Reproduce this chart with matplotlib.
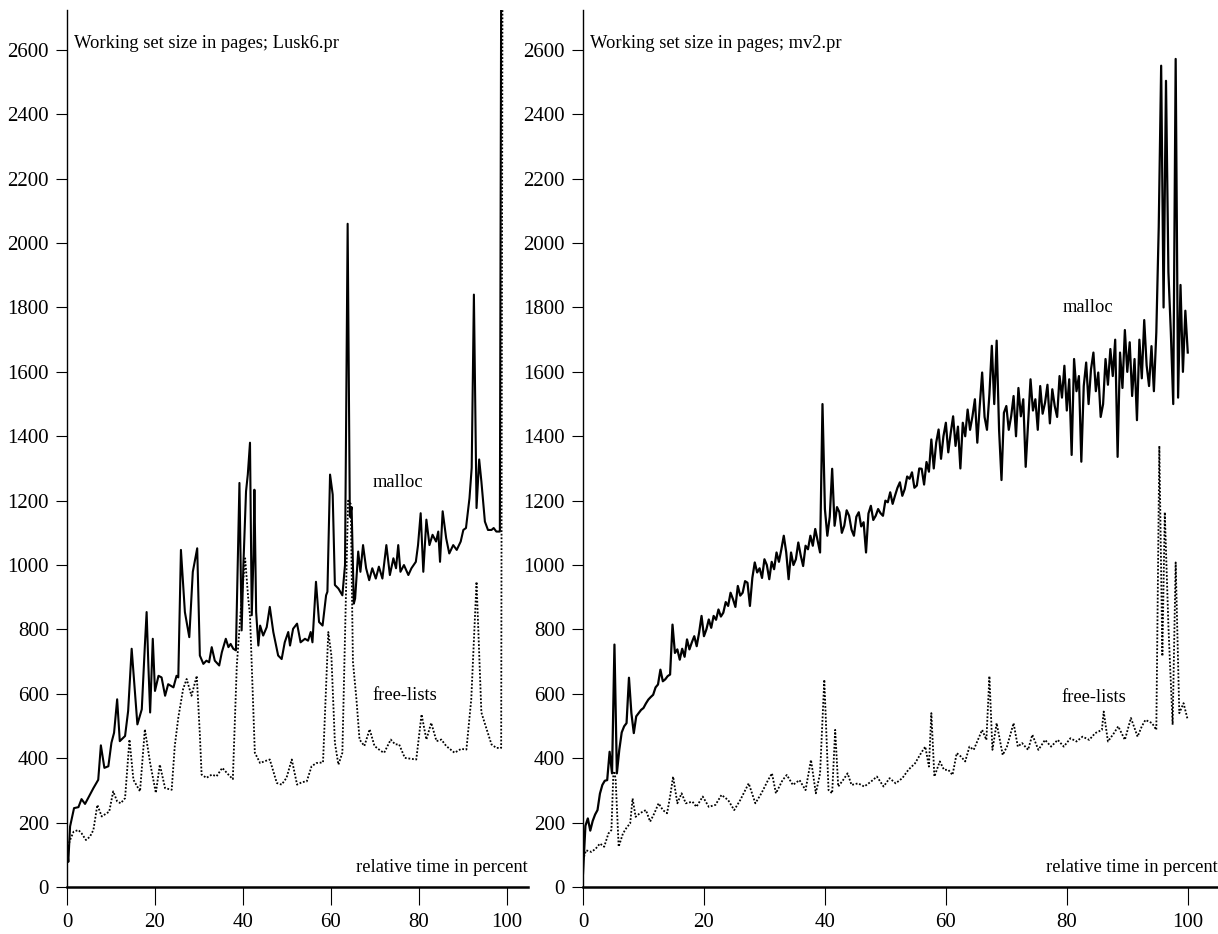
import matplotlib
matplotlib.use("Agg")
import matplotlib.pyplot as plt
import numpy as np

plt.rcParams['font.family'] = ['Liberation Serif', 'DejaVu Serif']

# ---- Lusk6.pr (left panel) ----
lusk_malloc_x = [0, 0.3, 0.7, 1.6, 2.6, 3.3, 4.1, 5.2, 6.0, 7.1, 7.7, 8.5, 9.4, 10.1, 10.7,
                 11.4, 12.0, 13.2, 13.9, 14.7, 16.0, 17.0, 17.7, 18.1, 18.5, 18.9, 19.5, 20.0,
                 20.8, 21.5, 22.3, 23.0, 24.2, 24.9, 25.3, 25.9, 26.8, 27.8, 28.6, 29.6, 30.2,
                 31.0, 31.7, 32.3, 32.9, 33.6, 34.6, 35.2, 36.1, 36.7, 37.2, 37.8, 38.4, 39.2,
                 39.7, 40.1, 40.7, 41.1, 41.6, 42.0, 42.4, 42.6, 43.0, 43.5, 43.9, 44.6, 45.4,
                 46.1, 46.9, 48.0, 48.8, 49.5, 50.3, 50.7, 51.4, 52.3, 53.1, 54.1, 54.8, 55.4,
                 55.8, 56.6, 57.3, 58.1, 58.9, 59.2, 59.8, 60.4, 60.9, 61.7, 62.6, 63.2, 63.8,
                 64.3, 64.7, 65.2, 65.5, 66.2, 66.7, 67.3, 68.0, 68.7, 69.4, 70.2, 70.9, 71.7,
                 72.6, 73.4, 74.2, 74.8, 75.3, 75.8, 76.6, 77.6, 78.3, 79.3, 79.8, 80.4, 81.0,
                 81.7, 82.4, 83.1, 83.9, 84.4, 84.8, 85.4, 86.2, 86.9, 87.8, 88.6, 89.5, 90.1,
                 90.7, 91.5, 92.0, 92.5, 93.1, 93.7, 94.2, 95.0, 95.7, 96.5, 97.0, 97.6, 98.4,
                 98.7]
lusk_malloc_y = [125, 78, 188, 245, 248, 273, 258, 286, 307, 333, 440, 370, 375, 448, 479,
                 583, 453, 469, 547, 740, 505, 552, 750, 854, 688, 542, 771, 609,
                 656, 651, 594, 630, 620, 656, 651, 1047, 854, 776, 979, 1052, 719,
                 693, 703, 698, 745, 703, 688, 729, 771, 745, 755, 740, 735, 1255,
                 797, 1000, 1229, 1281, 1380, 844, 1031, 1234, 854, 750, 812, 781, 807,
                 870, 792, 719, 708, 760, 792, 750, 802, 818, 760, 771, 765, 792,
                 760, 948, 823, 812, 906, 917, 1281, 1219, 938, 927, 906, 1000, 2060,
                 1150, 1180, 880, 896, 1042, 979, 1062, 990, 953, 990, 958, 995, 958,
                 1062, 969, 1021, 990, 1062, 979, 1000, 969, 990, 1010, 1062, 1161, 979,
                 1141, 1062, 1094, 1073, 1104, 1010, 1167, 1083, 1036, 1062, 1047, 1073, 1109,
                 1115, 1208, 1302, 1840, 1177, 1328, 1260, 1135, 1109, 1109, 1115, 1104, 1104,
                 2800]

lusk_free_x = [0, 0.7, 1.5, 2.6, 3.3, 4.3, 5.2, 6.0, 6.9, 7.9, 9.0, 9.6, 10.5, 11.4, 12.2,
               13.2, 14.2, 15.1, 16.6, 17.7, 18.9, 20.2, 21.1, 22.3, 23.8, 24.5, 25.3, 26.4,
               27.2, 28.3, 29.5, 30.2, 30.6, 31.7, 32.9, 34.0, 35.3, 36.7, 37.7, 38.6, 39.7,
               40.5, 41.2, 41.6, 42.7, 43.9, 45.0, 46.1, 47.7, 48.8, 49.9, 51.1, 52.3, 53.5,
               54.5, 55.6, 56.7, 58.2, 59.4, 60.1, 60.9, 61.7, 62.6, 63.4, 63.9, 64.5, 65.0,
               65.8, 66.5, 67.6, 68.8, 69.9, 71.4, 72.1, 73.6, 74.6, 75.5, 76.8, 78.3, 79.4,
               80.6, 81.7, 82.8, 84.0, 85.1, 86.2, 88.1, 89.6, 90.8, 91.9, 93.1, 94.2, 95.4,
               96.5, 97.6, 98.7, 99.0]
lusk_free_y = [115, 146, 172, 177, 167, 146, 156, 177, 255, 219, 229, 234, 297, 266, 260,
               276, 458, 333, 297, 490, 385, 292, 380, 307, 302, 438, 526, 615,
               646, 594, 656, 474, 349, 339, 349, 344, 370, 349, 335, 688, 896,
               1021, 896, 844, 417, 385, 391, 396, 323, 318, 339, 396, 318, 326,
               328, 375, 385, 387, 792, 719, 448, 380, 417, 900, 1200, 1190, 700,
               583, 458, 438, 490, 438, 422, 417, 458, 443, 443, 401, 398, 396,
               536, 458, 510, 453, 458, 438, 417, 429, 427, 583, 948, 542, 490,
               443, 432, 432, 2800]

# ---- mv2.pr (right panel) ----
# malloc sampled every 0.4 % of run time (0 .. 100)
mv2_malloc_y = [42, 190, 213, 175, 205, 225, 239, 290, 317, 330,
                332, 420, 353, 753, 353, 426, 480, 499, 509, 650,
                540, 478, 530, 540, 550, 556, 570, 582, 590, 597,
                620, 629, 675, 639, 645, 655, 660, 815, 727, 738,
                706, 740, 715, 769, 738, 760, 779, 748, 790, 842,
                779, 800, 831, 805, 842, 830, 862, 840, 852, 885,
                873, 914, 894, 870, 935, 905, 914, 950, 945, 873,
                960, 1008, 977, 990, 960, 1018, 1000, 956, 1010, 987,
                1039, 1010, 1049, 1091, 1040, 956, 1039, 1000, 1018, 1070,
                1030, 997, 1060, 1049, 1091, 1060, 1112, 1075, 1039, 1500,
                1174, 1091, 1150, 1299, 1122, 1180, 1164, 1100, 1122, 1170,
                1153, 1110, 1091, 1150, 1164, 1120, 1133, 1039, 1160, 1184,
                1140, 1153, 1174, 1161, 1153, 1200, 1195, 1226, 1190, 1216,
                1240, 1257, 1215, 1236, 1275, 1268, 1288, 1240, 1247, 1300,
                1299, 1250, 1320, 1290, 1390, 1300, 1380, 1421, 1330, 1400,
                1442, 1350, 1410, 1462, 1370, 1430, 1300, 1442, 1400, 1483,
                1420, 1462, 1515, 1380, 1494, 1598, 1460, 1420, 1530, 1681,
                1500, 1697, 1420, 1264, 1473, 1494, 1420, 1462, 1525, 1400,
                1550, 1462, 1515, 1305, 1440, 1577, 1480, 1515, 1420, 1556,
                1470, 1504, 1560, 1440, 1546, 1494, 1460, 1587, 1520, 1619,
                1480, 1577, 1342, 1640, 1540, 1587, 1321, 1556, 1629, 1500,
                1608, 1660, 1540, 1598, 1460, 1500, 1640, 1560, 1671, 1587,
                1700, 1336, 1660, 1550, 1730, 1600, 1692, 1525, 1640, 1450,
                1700, 1580, 1761, 1620, 1556, 1680, 1540, 1723, 2050, 2551,
                1800, 2504, 1910, 1723, 1500, 2572, 1520, 1870, 1600, 1790,
                1660]
mv2_malloc_x = np.linspace(0, 100, len(mv2_malloc_y))

mv2_free_x = [0, 0.5, 1.4, 2.1, 2.8, 3.5, 4.2, 4.7, 5.0, 5.2, 5.4, 5.9, 6.6, 7.3, 7.8,
              8.2, 8.7, 9.4, 10.4, 11.1, 11.8, 12.5, 13.2, 13.9, 14.4, 14.9, 15.6, 16.3,
              17.0, 18.1, 18.75, 19.8, 20.8, 21.9, 22.9, 24.0, 25.0, 26.0, 27.4, 28.5, 29.5,
              30.6, 31.25, 31.9, 33.0, 33.7, 34.7, 35.8, 36.8, 37.7, 38.5, 39.2, 39.9, 40.6,
              41.2, 41.7, 42.2, 43.0, 43.75, 44.4, 45.5, 46.5, 47.6, 48.6, 49.7, 50.7, 51.7,
              52.8, 53.8, 54.9, 55.9, 56.6, 57.2, 57.6, 58.1, 59.0, 59.7, 60.4, 61.1, 61.8,
              62.5, 63.2, 63.9, 64.6, 65.3, 66.0, 66.7, 67.2, 67.7, 68.4, 69.4, 70.1, 71.2,
              71.9, 72.6, 73.6, 74.3, 75.3, 76.4, 77.4, 78.5, 79.5, 80.6, 81.6, 82.6, 83.7,
              84.7, 85.8, 86.1, 86.8, 87.8, 88.5, 89.6, 90.6, 91.7, 92.4, 93.0, 94.1, 94.8,
              95.3, 95.8, 96.2, 96.8, 97.5, 98.0, 98.6, 99.3, 100.0]
mv2_free_y = [83, 114, 109, 119, 135, 125, 166, 177, 343, 360, 332, 125, 166, 187, 197,
              275, 218, 229, 239, 203, 229, 260, 239, 229, 281, 343, 260, 291,
              260, 265, 249, 281, 249, 255, 286, 270, 239, 270, 322, 260, 291,
              332, 353, 291, 332, 348, 317, 332, 301, 395, 291, 353, 644, 301,
              291, 488, 312, 332, 353, 317, 322, 312, 327, 343, 312, 338, 322,
              338, 364, 384, 416, 436, 374, 540, 343, 390, 364, 364, 348, 416,
              405, 390, 436, 426, 457, 488, 457, 655, 426, 509, 410, 436, 509,
              436, 447, 426, 473, 426, 457, 436, 457, 436, 462, 452, 467, 457,
              478, 488, 545, 452, 478, 499, 457, 525, 467, 499, 519, 509, 488,
              1370, 717, 1164, 810, 504, 1008, 540, 571, 519]

x_ticks = [0, 20, 40, 60, 80, 100]
y_ticks = list(range(0, 2601, 200))

fig = plt.figure(figsize=(12.18, 9.34), dpi=100)
W, H = 1218, 934
ax1 = fig.add_axes([67 / W, 47 / H, 461 / W, 877 / H])
ax2 = fig.add_axes([583 / W, 47 / H, 635 / W, 877 / H])

panels = [
    (ax1, lusk_malloc_x, lusk_malloc_y, lusk_free_x, lusk_free_y, 104.8,
     "Working set size in pages; Lusk6.pr", 1.6, (75.2, 1255), (76.8, 594), 1.5),
    (ax2, mv2_malloc_x, mv2_malloc_y, mv2_free_x, mv2_free_y, 105.0,
     "Working set size in pages; mv2.pr", 1.2, (83.5, 1800), (84.5, 590), 1.6),
]

for ax, mx, my, fx, fy, xmax, title, tx, mlab, flab, mlw in panels:
    ax.plot(fx, fy, color='black', lw=1.3, ls=(0, (1, 1)))
    ax.plot(mx, my, color='black', lw=mlw)
    ax.set_xlim(0, xmax)
    ax.set_ylim(0, 2724)
    ax.set_xticks(x_ticks)
    ax.set_yticks(y_ticks)
    ax.spines['top'].set_visible(False)
    ax.spines['right'].set_visible(False)
    ax.spines['left'].set_linewidth(1.0)
    ax.spines['bottom'].set_linewidth(1.8)
    ax.tick_params(axis='y', direction='out', length=8, width=0.8, pad=5, labelsize=15)
    ax.tick_params(axis='x', direction='out', length=13, width=0.8, pad=6, labelsize=15)
    ax.text(tx, 2620, title, fontsize=13.3, va='center', ha='left')
    ax.text(mlab[0], mlab[1], "malloc", fontsize=13.3, ha='center', va='center')
    ax.text(flab[0], flab[1], "free-lists", fontsize=13.3, ha='center', va='center')
    ax.text(xmax, 60, "relative time in percent", fontsize=13.3, ha='right', va='center')
    ax.patch.set_visible(False)

fig.savefig("out.png", dpi=100)
